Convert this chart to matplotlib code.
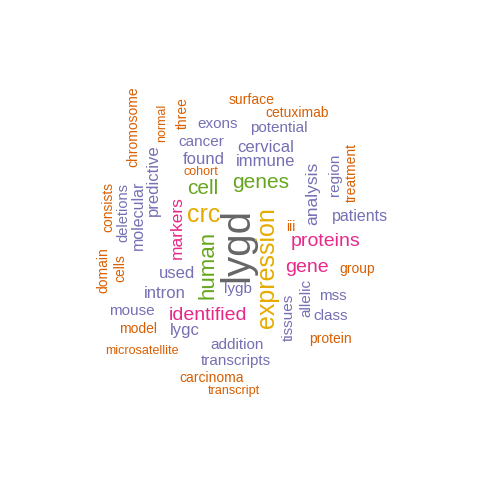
import matplotlib
matplotlib.use("Agg")
import matplotlib.pyplot as plt

PURPLE = "#7570B3"
ORANGE = "#D95F02"
PINK = "#E7298A"
GREEN = "#66A61E"
YELLOW = "#E6AB02"
GRAY = "#666666"

words = ["lygd", "expression", "crc", "human", "genes", "cell", "proteins", "gene",
         "identified", "markers", "analysis", "cervical", "immune", "found", "cancer",
         "exons", "potential", "surface", "cetuximab", "three", "normal", "chromosome",
         "predictive", "cohort", "molecular", "deletions", "consists", "cells", "domain",
         "iii", "region", "treatment", "patients", "group", "used", "intron", "lygb",
         "allelic", "mss", "tissues", "class", "mouse", "model", "lygc", "protein",
         "addition", "microsatellite", "transcripts", "carcinoma", "transcript"]
sizes = [29, 18, 18, 16, 15, 15, 14, 14, 14, 12.5, 12.5, 12, 12, 12, 11,
         11, 11, 10, 10, 10, 9, 10, 12, 9, 11.5, 10.5, 10, 10, 10,
         10, 11, 10, 11.5, 10, 12, 12, 11, 11, 11, 11, 11, 11, 10, 12, 10,
         11, 9, 11, 10, 9]
colors = [GRAY, YELLOW, YELLOW, GREEN, GREEN, GREEN, PINK, PINK, PINK, PINK, PURPLE,
          PURPLE, PURPLE, PURPLE, PURPLE, PURPLE, PURPLE, ORANGE, ORANGE, ORANGE, ORANGE,
          ORANGE, PURPLE, ORANGE, PURPLE, PURPLE, ORANGE, ORANGE, ORANGE, ORANGE, PURPLE,
          ORANGE, PURPLE, ORANGE, PURPLE, PURPLE, PURPLE, PURPLE, PURPLE, PURPLE, PURPLE,
          PURPLE, ORANGE, PURPLE, ORANGE, PURPLE, ORANGE, PURPLE, ORANGE, ORANGE]
vertical = ["lygd", "expression", "human", "markers", "analysis", "three", "normal",
            "chromosome", "predictive", "molecular", "deletions", "consists", "cells",
            "domain", "region", "treatment", "allelic", "tissues"]
xs = [237, 267, 204, 208, 261, 203, 326, 307, 208, 177, 313, 266, 266, 204, 201,
      218, 279, 252, 297, 183, 162, 133, 153, 201, 138, 123, 108, 120, 103,
      291, 335, 352, 360, 357, 177, 165, 238, 306, 333, 289, 331, 132, 138, 185, 330,
      237, 142, 236, 212, 234]
ys = [245, 268, 215, 265, 183, 189, 242, 267, 315, 228, 193, 148, 162, 160, 142,
      124, 128, 100, 113, 113, 123, 127, 180, 172, 215, 213, 207, 268, 270,
      227, 175, 172, 216, 269, 274, 293, 289, 298, 296, 317, 316, 311, 329, 331, 339,
      345, 351, 361, 378, 391]

fig = plt.figure(figsize=(4.8, 4.8), dpi=100)
ax = fig.add_axes([0, 0, 1, 1])
ax.set_xlim(0, 480)
ax.set_ylim(480, 0)
ax.axis("off")

for w, s, c, x, y in zip(words, sizes, colors, xs, ys):
    ax.text(x, y, w, fontsize=s, color=c, family="Liberation Sans",
            rotation=90 if w in vertical else 0, ha="center", va="center")

fig.savefig("out.png", dpi=100)
